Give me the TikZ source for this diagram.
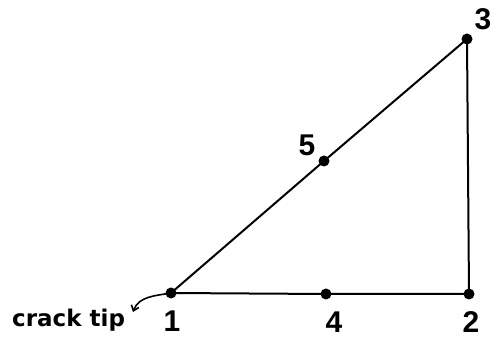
\documentclass[tikz,border=0pt]{standalone}
\usepackage{fontspec}
\setmainfont{Liberation Sans}
\newfontfamily\tipfont{DejaVu Sans}
\usetikzlibrary{arrows.meta}

\begin{document}
\begin{tikzpicture}[>=Stealth,x=1pt,y=1pt,
  dot/.style={circle,fill,inner sep=0pt,minimum size=11pt},
  num/.style={font=\fontsize{30}{30}\selectfont\bfseries,inner sep=0pt}]
  \useasboundingbox (0,0) rectangle (490,339);
  % 节点
  \node[dot] (n1) at (171,46) {};
  \node[dot] (n4) at (326,45) {};
  \node[dot] (n2) at (469,45) {};
  \node[dot] (n3) at (467,300) {};
  \node[dot] (n5) at (324,178) {};
  % 三角形边
  \draw[line width=2pt] (n1.center) -- (n4.center) -- (n2.center) -- (n3.center) -- (n5.center) -- (n1.center);
  % 编号
  \node[num] (l1) at (172,18) {1};
  \node[num] (l4) at (334,17) {4};
  \node[num] (l2) at (471,17) {2};
  \node[num] (l3) at (483,320) {3};
  \node[num] (l5) at (307,194) {5};
  % 裂纹尖端
  \node[anchor=base west,inner sep=0pt,font=\tipfont\fontsize{23}{23}\selectfont\bfseries] (tip) at (12,12) {crack tip};
  \coordinate (tipend) at (133,27);
  \draw[line width=1.6pt,{Straight Barb[length=5pt,width=8pt]}-] (tipend) to[out=70,in=190] (n1.center);
\end{tikzpicture}
\end{document}
